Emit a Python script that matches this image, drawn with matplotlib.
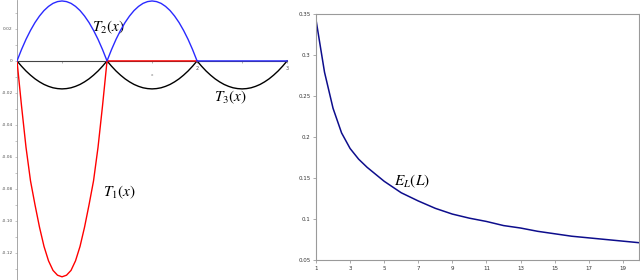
import matplotlib
matplotlib.use("Agg")
import matplotlib.pyplot as plt

plt.rcParams['mathtext.fontset'] = 'stix'

# left panel: T1, T2, T3 on [0,3] (step 0.05 on one hump)
hump_x = [0.0, 0.05, 0.1, 0.15, 0.2, 0.25, 0.3, 0.35, 0.4, 0.45, 0.5,
          0.55, 0.6, 0.65, 0.7, 0.75, 0.8, 0.85, 0.9, 0.95, 1.0]
t1_hump = [0.0, -0.028, -0.054, -0.075, -0.090, -0.104, -0.116, -0.125, -0.131, -0.134, -0.135,
           -0.134, -0.131, -0.125, -0.116, -0.104, -0.090, -0.075, -0.054, -0.028, 0.0]
t2_hump = [0.0, 0.0071, 0.0135, 0.0191, 0.024, 0.0281, 0.0315, 0.0341, 0.036, 0.0371, 0.0375,
           0.0371, 0.036, 0.0341, 0.0315, 0.0281, 0.024, 0.0191, 0.0135, 0.0071, 0.0]
t3_hump = [0.0, -0.0033, -0.0063, -0.0089, -0.0112, -0.0131, -0.0147, -0.0159, -0.0168, -0.0173, -0.0175,
           -0.0173, -0.0168, -0.0159, -0.0147, -0.0131, -0.0112, -0.0089, -0.0063, -0.0033, 0.0]
left_yticks = [0.02, 0, -0.02, -0.04, -0.06, -0.08, -0.10, -0.12]
left_ylabels = ['0.02', '0', '-0.02', '-0.04', '-0.06', '-0.08', '-0.10', '-0.12']

# right panel: E_L(L); extra half-step readings where the curve bends sharply
L = [1, 1.5, 2, 2.5, 3, 3.5, 4, 5, 6, 7, 8, 9, 10, 11, 12, 13, 14, 15, 16, 17, 18, 19, 20]
E_L = [0.343, 0.279, 0.235, 0.205, 0.186, 0.173, 0.163, 0.146, 0.132, 0.122, 0.113, 0.106, 0.101,
       0.097, 0.092, 0.089, 0.085, 0.082, 0.079, 0.077, 0.075, 0.073, 0.071]
right_yticks = [0.05, 0.1, 0.15, 0.2, 0.25, 0.3, 0.35]
right_xticks = [1, 3, 5, 7, 9, 11, 13, 15, 17, 19]

fig = plt.figure(figsize=(6.4, 2.8), dpi=100)

# ---- left panel
ax = fig.add_axes([17 / 640, 0.0, 271 / 640, 1.0])
ax.set_xlim(0, 3.01)
ax.set_ylim(-0.137, 0.0381)

x1 = hump_x
x2 = [v + 1 for v in hump_x]
x3 = [v + 2 for v in hump_x]

ax.plot(x1 + x2 + x3, t3_hump * 3, color='black', lw=1.0, zorder=2)
ax.plot(x1 + [2.0], t1_hump + [0.0], color='red', lw=1.0, zorder=3)
ax.plot(x1 + x2 + [3.0], t2_hump + t2_hump + [0.0], color='#2a2aff', lw=1.0, zorder=4)

for s in ['top', 'right']:
    ax.spines[s].set_visible(False)
ax.spines['left'].set_color('#999999')
ax.spines['left'].set_linewidth(0.6)
ax.spines['bottom'].set_position(('data', 0))
ax.spines['bottom'].set_color('#444444')
ax.spines['bottom'].set_linewidth(0.8)
ax.spines['bottom'].set_bounds(0, 3)

ax.set_yticks(left_yticks)
ax.set_yticklabels(left_ylabels)
ax.set_yticks([0.03, 0.01, -0.01, -0.03, -0.05, -0.07, -0.09, -0.11, -0.13], minor=True)
ax.set_xticks([0.5, 1, 1.5, 2, 2.5, 3])
ax.set_xticklabels(['', '', '', '2', '', '3'])
ax.tick_params(axis='y', which='both', direction='out', length=1.5, width=0.4,
               colors='#999999', labelsize=3.2, labelcolor='#555555', pad=1.5)
ax.tick_params(axis='x', direction='out', length=1.5, width=0.4,
               colors='#777777', labelsize=3.5, labelcolor='#555555', pad=2)
ax.text(1.5, -0.009, 'x', fontsize=3, color='#777777', ha='center', va='center')

ax.text(1.01, 0.021, r'$T_2(x)$', fontsize=11, ha='center', va='center')
ax.text(2.37, -0.023, r'$T_3(x)$', fontsize=11, ha='center', va='center')
ax.text(1.14, -0.082, r'$T_1(x)$', fontsize=11, ha='center', va='center')

# ---- right panel
bx = fig.add_axes([316 / 640, 20 / 280, 323 / 640, 246 / 280])
bx.plot(L, E_L, color='#0d0d8c', lw=1.1)
bx.set_xlim(1, 19.95)
bx.set_ylim(0.05, 0.35)
bx.set_yticks(right_yticks)
bx.set_yticklabels(['0.05', '0.1', '0.15', '0.2', '0.25', '0.3', '0.35'])
bx.set_xticks(right_xticks)
for s in bx.spines.values():
    s.set_color('#9a9a9a')
    s.set_linewidth(0.8)
bx.tick_params(axis='both', which='major', direction='out', length=2, width=0.5,
               colors='#888888', labelsize=4, labelcolor='#333333', pad=2)
bx.text(6.6, 0.146, r'$E_L(L)$', fontsize=11, ha='center', va='center')

fig.savefig('out.png', dpi=100)
